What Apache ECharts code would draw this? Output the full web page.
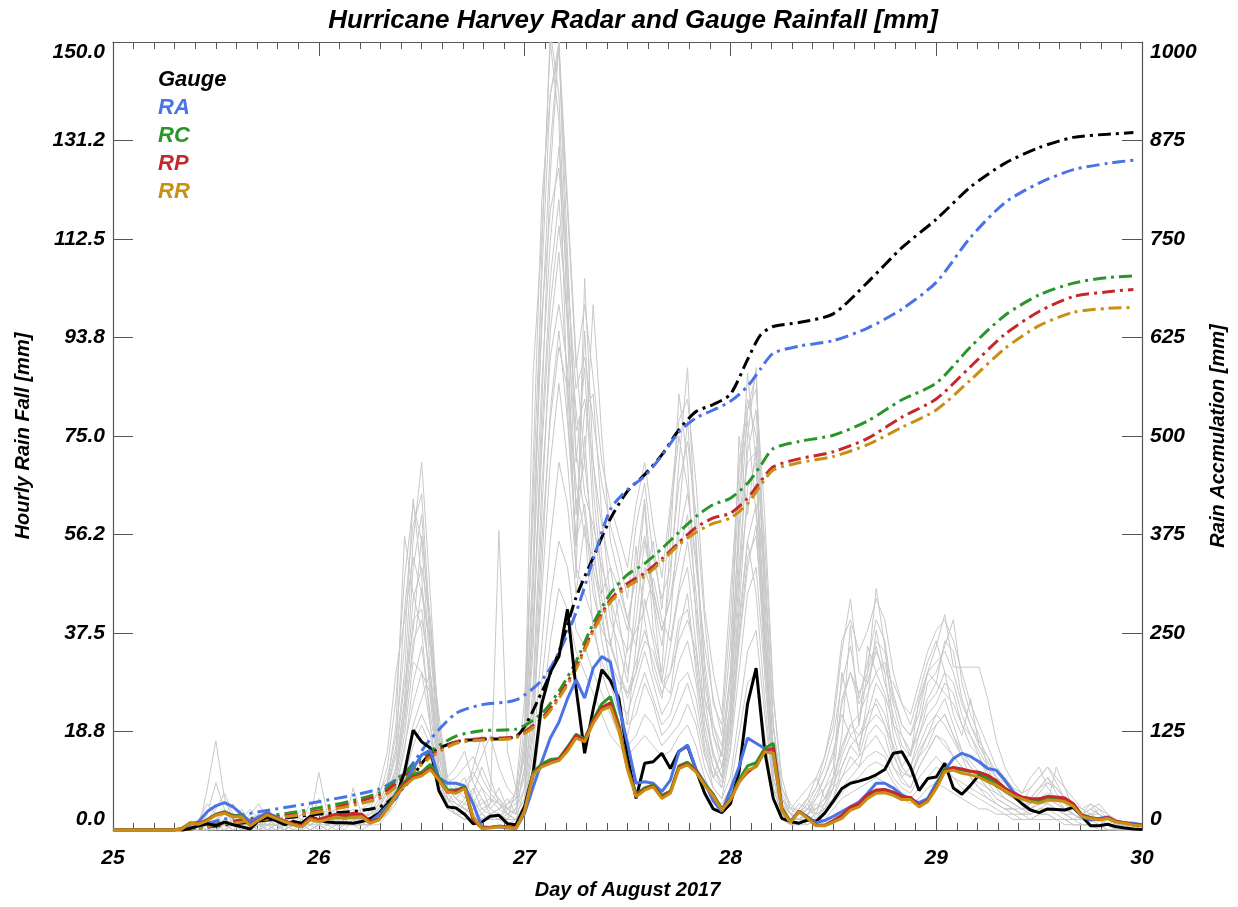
<!DOCTYPE html>
<html>
<head>
<meta charset="utf-8">
<script src="https://cdn.jsdelivr.net/npm/echarts@6/dist/echarts.min.js"></script>
<style>html,body{margin:0;padding:0;background:#fff}#chart{width:1238px;height:907px}</style>
</head>
<body>
<div id="chart"></div>
<script>
// ---------------- DATA ----------------
const dayStart = 25;                       // hour 0 = start of Aug 25
const xLabels = ['25', '26', '27', '28', '29', '30'];
const leftLabels = ['0.0', '18.8', '37.5', '56.2', '75.0', '93.8', '112.5', '131.2', '150.0'];
const rightLabels = ['0', '125', '250', '375', '500', '625', '750', '875', '1000'];
const legendNames = ['Gauge', 'RA', 'RC', 'RP', 'RR'];

// hourly rain (mm), index = hour since Aug 25 00:00 (0..120)
const gauge = [0,0,0,0,0,0,0,0,0,0.3, 0.8,1.2,0.8,1.5,1.0,0.6,0.2,1.8,2.4,1.8, 1.0,1.6,1.3,2.6,1.9,1.5,1.4,1.4,1.3,1.6,
  2.2,3.2,5.0,6.4,11.0,19.0,16.8,15.6,7.5,4.4, 4.2,3.0,1.2,1.5,2.6,2.8,1.2,1.0,4.5,11.0,
  24.0,30.0,33.0,42.0,27.0,14.6,23.0,30.5,28.5,25.0, 14.0,6.0,12.7,13.0,14.6,11.7,15.0,16.0,11.4,7.0,
  4.0,3.3,5.0,11.0,24.0,30.8,15.0,6.0,2.2,1.6, 1.3,1.9,1.6,3.2,5.5,7.9,8.9,9.3,9.8,10.5,
  11.5,14.6,14.9,12.0,7.5,9.8,10.1,12.7,8.0,6.8, 8.5,10.5,9.5,8.5,7.5,6.5,5.0,3.8,3.3,4.0,
  3.9,3.8,4.3,2.6,0.8,0.8,1.1,0.6,0.4,0.2, 0.1];
const ra = [0,0,0,0,0,0,0,0,0.3,1.1, 1.6,3.5,4.6,5.2,4.4,3.0,1.6,2.5,3.3,2.5, 1.6,1.0,0.8,2.0,1.9,2.1,2.4,2.4,2.4,2.5,
  1.6,2.9,4.6,6.0,8.9,11.7,14.3,15.2,10.0,8.9, 8.9,8.4,5.0,0.6,0.5,0.6,0.4,0.3,3.2,8.2,
  13.0,17.5,20.5,25.0,28.6,25.1,30.8,33.0,32.0,23.5, 16.5,8.9,9.2,8.9,7.3,9.5,14.9,16.2,11.5,9.0,
  5.5,3.5,7.6,12.0,17.5,16.5,15.5,14.5,3.8,1.6, 3.5,2.5,1.4,1.8,2.6,3.5,4.4,5.3,7.0,8.9,
  8.9,8.0,6.7,5.8,5.2,6.0,8.9,11.4,13.6,14.6, 14.0,13.0,11.7,11.4,9.5,7.3,6.0,5.4,6.0,5.8,
  5.8,5.7,4.8,2.5,1.9,2.2,2.5,1.6,1.4,1.3, 1.0];
const rc = [0,0,0,0,0,0,0,0,0.2,1.4, 1.2,2.0,3.0,3.5,2.8,2.7,0.9,2.0,3.0,2.3, 1.7,1.1,0.7,2.1,1.7,2.1,2.6,2.4,2.6,2.6,
  1.4,2.0,4.2,7.0,9.2,10.6,11.0,12.5,10.0,7.6, 7.6,8.2,2.0,0.4,0.5,0.7,0.6,0.4,3.8,11.0,
  12.6,13.4,13.6,15.8,18.2,17.3,21.0,24.0,25.4,20.0, 12.0,6.8,8.0,8.6,6.6,7.4,12.2,12.9,11.4,8.8,
  6.8,4.0,6.0,9.5,12.2,12.8,15.5,16.5,4.2,1.5, 3.6,2.4,0.9,0.9,1.7,2.4,4.1,4.7,6.4,7.4,
  7.6,7.0,6.2,6.0,4.6,5.6,8.3,11.7,11.8,11.4, 11.2,10.8,9.8,8.8,7.8,6.8,6.2,5.8,5.5,6.1,
  6.0,5.8,4.8,2.8,2.4,2.0,2.3,1.6,1.4,1.0, 0.9];
const rp = [0,0,0,0,0,0,0,0,0.2,1.3, 1.2,1.9,2.9,3.3,2.6,2.6,0.9,2.0,3.0,2.3, 1.7,1.2,0.8,2.3,2.0,2.5,3.0,2.8,3.2,3.0,
  1.6,2.1,4.0,6.7,8.8,10.1,10.6,11.8,9.6,7.2, 7.5,8.0,2.0,0.4,0.5,0.7,0.6,0.4,3.6,10.7,
  12.2,12.9,13.5,15.5,18.0,17.0,20.8,23.3,24.2,19.6, 11.8,6.5,7.8,8.4,6.3,7.2,12.0,12.6,11.2,8.6,
  6.6,3.9,5.8,9.2,11.0,12.2,15.0,15.6,4.0,1.5, 3.6,2.3,0.9,0.9,1.8,2.8,4.4,5.0,6.8,7.6,
  7.7,7.2,6.4,6.2,4.7,5.6,8.1,11.3,11.9,11.6, 11.2,11.0,10.4,9.4,8.0,7.0,6.3,6.0,5.9,6.4,
  6.3,6.1,5.0,2.8,2.3,2.0,2.4,1.6,1.4,1.0, 0.9];
const rr = [0,0,0,0,0,0,0,0,0.2,1.3, 1.1,1.8,2.8,3.2,2.5,2.5,0.8,1.9,2.9,2.2, 1.6,1.0,0.6,2.0,1.6,2.0,2.5,2.2,2.4,2.5,
  1.3,1.9,4.0,6.5,8.4,9.8,10.3,11.5,9.5,7.3, 7.0,7.9,2.5,0.3,0.4,0.6,0.5,0.3,3.5,10.5,
  12.0,12.7,13.2,15.0,17.5,16.8,20.3,22.8,23.5,19.0, 11.5,6.3,7.6,8.2,6.0,7.0,11.7,12.4,11.0,8.5,
  6.5,3.8,5.7,9.0,11.4,12.0,14.9,14.6,3.8,1.4, 3.5,2.2,0.8,0.8,1.5,2.2,3.8,4.4,6.0,7.0,
  7.1,6.6,5.8,5.8,4.4,5.4,7.9,11.1,11.4,10.8, 10.5,10.1,9.2,8.5,7.5,6.5,5.9,5.4,5.1,5.7,
  5.6,5.4,4.5,2.6,2.2,1.9,2.2,1.5,1.3,0.9, 0.8];

// accumulated rain (mm) sampled at these hours
const cumHours = [8,15,23,31,34,37,40,43,47,50,52,54,56,58,60,62,64,66,68,70,72,74,75.5,77,80,84,88,92,96,100,104,108,112,116,119];
const cumGauge = [0,9,19,29,55,97,112,115,119,175,226,295,346,395,430,451,476,508,531,540,553,597,628,639,644,655,695,739,775,816,846,866,879,883,885];
const cumRA = [0,19,34,52,72,115,148,159,165,190,225,276,343,407,432,449,475,505,523,533,544,563,585,605,614,621,637,661,695,752,796,821,838,846,850];
const cumRC = [0,13,26,47,73,100,119,126,128,148,176,214,262,300,324,338,357,378,398,413,421,440,462,484,493,501,519,546,567,613,653,679,694,701,703];
const cumRP = [0,12,22,44,68,95,112,116,119,142,170,207,255,292,313,326,344,365,384,396,402,421,442,461,471,480,497,524,547,588,629,658,677,683,686];
const cumRR = [0,10,21,40,64,92,110,114,117,139,167,204,252,289,309,322,341,362,378,389,396,414,437,457,466,474,489,511,533,571,611,640,657,662,663];

// individual gauge records (grey), hourly, index = hour
const grey1 = [0,0,0,0,0,0,0,0,0,0, 2,5,3,1,2,4,1,0,3,2, 1,2,4,3,2,1,3,2,1,2, 3,6,12,25,48,62,55,30,12,6, 4,3,5,8,4,6,3,2,8,45,
  110,152,140,96,48,105,70,52,40,35, 28,45,62,38,30,55,83,70,40,22, 15,10,25,60,87,70,30,8,3,2, 4,6,3,8,12,30,22,15,25,38,
  30,18,12,15,20,28,30,35,40,28, 22,18,12,8,6,5,4,6,8,10, 7,5,3,2,3,2,1,2,1,0, 0];
const grey2 = [0,0,0,0,0,0,0,0,0,0, 0,8,17,6,2,1,3,5,2,1, 0,1,2,5,3,2,4,1,2,3, 2,4,8,15,30,55,70,45,18,8, 6,4,3,2,3,4,6,3,12,70,
  120,140,150,102,60,80,83,60,44,30, 20,35,50,44,28,40,60,78,55,30, 18,12,20,45,75,88,40,10,4,2, 1,3,5,4,8,18,39,20,30,46,
  35,20,15,12,18,24,26,30,22,18, 25,16,14,10,8,7,5,4,6,5, 12,8,4,3,5,3,2,1,1,0, 0];
const grey3 = [0,0,0,0,0,0,0,0,0,0, 1,2,4,7,3,2,1,0,2,3, 2,1,0,1,2,1,2,3,4,2, 1,3,6,10,22,40,42,28,10,5, 8,10,6,3,5,57,15,8,10,25,
  60,95,110,85,54,75,50,42,30,25, 35,54,40,30,25,35,45,50,35,20, 12,8,18,38,55,62,35,12,5,3, 2,1,2,5,10,15,20,18,22,28,
  25,15,10,12,16,20,22,25,20,15, 12,10,8,6,5,4,3,4,5,6, 5,4,3,2,2,1,2,1,1,0, 0];
const grey4 = [0,0,0,0,0,0,0,0,0,0, 0,1,2,3,2,1,0,1,2,1, 0,2,3,2,1,0,1,2,3,4, 5,7,10,18,35,63,48,25,10,5, 3,2,4,6,3,2,4,6,15,40,
  75,105,120,96,72,60,45,38,35,30, 25,30,44,36,28,26,38,45,30,18, 10,15,30,50,72,80,45,15,4,2, 3,5,2,4,6,12,16,14,20,25,
  22,16,12,10,14,18,20,22,18,14, 10,9,8,7,6,5,4,3,4,5, 4,3,2,3,2,2,1,1,0,0, 0];
const grey5 = [0,0,0,0,0,0,0,0,0,0, 0,0,1,2,1,0,0,1,1,2, 1,1,2,1,0,1,2,1,1,2, 2,3,5,8,15,28,35,22,12,6, 4,3,2,3,2,3,2,4,8,22,
  45,70,85,70,50,45,40,30,25,20, 18,25,30,25,20,22,28,30,25,15, 8,6,15,30,45,50,30,10,3,2, 2,3,4,6,8,10,12,14,16,18,
  15,12,10,8,12,15,18,16,14,12, 10,8,6,5,4,4,3,3,4,4, 3,2,2,1,1,1,1,0,0,0, 0];
const grey6 = [0,0,0,0,0,0,0,0,0,0, 0,2,1,0,1,3,2,1,0,1, 3,2,1,2,11,3,2,1,2,1, 2,5,9,20,56,45,38,20,9,4, 3,5,8,4,3,2,5,7,20,87,
  113,150,135,80,54,95,65,48,35,44, 38,50,63,44,35,48,70,88,54,25, 20,14,28,75,60,73,35,12,6,3, 2,4,6,10,15,22,18,20,35,30,
  26,20,18,14,25,30,35,41,31,31, 31,31,25,17,12,9,7,10,12,8, 6,4,3,2,3,4,2,1,1,0, 0];
const grey7 = [0,0,0,0,0,0,0,0,0,0, 0,1,0,1,2,1,0,2,1,0, 1,3,2,1,2,3,1,0,2,1, 1,2,4,6,12,20,25,30,15,8, 6,5,4,2,3,4,3,2,5,15,
  35,55,70,62,45,58,38,32,28,22, 20,22,28,24,18,20,24,28,22,14, 10,12,22,40,55,45,25,8,5,3, 5,4,3,4,6,8,10,12,14,15,
  14,10,8,7,10,12,14,12,10,9, 8,7,6,5,4,3,3,2,3,3, 2,2,1,1,1,1,0,0,0,0, 0];
const grey8 = [0,0,0,0,0,0,0,0,0,0, 1,0,2,1,0,2,1,3,2,1, 2,0,1,3,2,4,2,1,8,3, 2,4,8,14,28,38,56,40,20,10, 8,6,7,12,8,6,4,5,10,35,
  80,125,150,110,70,88,60,45,50,40, 30,40,55,45,38,44,52,60,45,25, 14,10,22,55,80,87,50,20,6,4, 6,8,10,6,10,25,30,24,28,35,
  28,22,16,14,20,25,28,26,24,20, 18,14,10,8,6,5,4,5,7,9, 8,6,4,3,4,5,3,2,1,1, 0];
const grey9 = [0,0,0,0,0,0,0,0,0,0, 0,1,1,2,1,1,0,0,1,2, 2,1,1,2,3,2,1,1,2,2, 3,4,7,12,25,50,60,35,14,7, 5,4,3,4,5,8,4,3,6,28,
  65,90,100,88,62,70,55,40,32,28, 26,32,38,32,26,30,40,42,32,18, 12,9,20,42,65,70,38,12,4,2, 3,4,4,5,8,14,18,16,22,24,
  20,14,11,10,15,18,22,20,17,14, 12,10,8,6,5,4,4,4,5,6, 5,4,3,2,2,2,1,1,0,0, 0];
const grey10 = [0,0,0,0,0,0,0,0,0,0, 0,0,1,1,2,1,1,0,0,1, 1,2,1,0,1,2,2,1,1,1, 1,2,5,9,18,32,30,20,8,5, 3,2,2,3,2,2,3,2,4,18,
  50,80,95,78,55,62,48,36,28,24, 22,28,34,28,22,25,32,36,28,16, 10,8,16,35,50,58,32,10,4,2, 2,2,3,4,6,10,14,12,18,20,
  18,12,9,8,12,15,18,17,14,12, 10,8,7,5,4,4,3,3,4,4, 4,3,2,2,1,1,1,0,0,0, 0];
const grey11 = [0,0,0,0,0,0,0,0,0,0, 0,3,9,4,1,0,2,1,4,2, 0,1,3,2,6,2,1,3,2,1, 4,8,15,30,40,52,45,35,22,10, 12,15,9,6,4,3,2,8,25,60,
  95,130,150,120,90,70,100,75,55,48, 40,35,48,55,42,60,75,65,50,35, 25,18,35,65,78,60,42,15,8,5, 3,6,8,12,18,28,35,25,32,40,
  36,25,20,18,22,30,28,36,34,25, 20,16,13,10,9,7,5,8,10,12, 9,6,4,3,4,3,2,1,1,0, 0];
const grey12 = [0,0,0,0,0,0,0,0,0,0, 0,0,2,3,5,2,1,2,0,1, 2,1,0,2,1,3,4,2,1,0, 1,2,4,8,16,24,30,26,14,6, 4,6,12,18,10,5,3,4,12,38,
  72,100,115,98,80,64,58,50,44,38, 34,38,42,48,40,36,46,55,42,28, 18,14,24,48,62,66,48,20,6,3, 2,3,6,8,10,16,20,22,26,30,
  32,24,18,15,18,22,24,28,26,20, 16,14,11,9,7,6,5,5,6,7, 6,5,4,3,3,2,2,1,1,0, 0];
const grey13 = [0,0,0,0,0,0,0,0,0,0, 0,0,0,1,1,2,1,1,0,0, 1,1,1,0,1,1,2,2,1,1, 1,1,3,5,10,16,20,16,10,5, 3,3,2,2,3,2,2,2,3,10,
  28,44,55,50,38,35,30,26,22,18, 16,18,22,20,16,18,20,24,20,12, 8,6,10,22,34,38,22,8,3,1, 1,2,2,3,5,7,9,10,12,13,
  12,9,7,6,8,10,12,11,10,8, 7,6,5,4,3,3,2,2,3,3, 2,2,1,1,1,1,0,0,0,0, 0];
const grey14 = [0,0,0,0,0,0,0,0,0,0, 0,1,0,2,1,0,1,2,1,1, 0,1,2,1,2,1,0,1,2,3, 3,5,9,16,42,58,64,38,16,8, 6,8,10,14,18,12,8,6,14,52,
  98,118,126,104,84,90,78,66,58,52, 44,58,66,52,44,50,66,74,60,40, 24,20,40,70,82,75,55,25,10,4, 4,6,10,14,20,34,44,30,28,34,
  30,28,24,20,26,32,36,30,28,22, 18,15,12,10,8,7,6,6,8,10, 8,6,5,4,3,3,2,1,1,0, 0];
const grey15 = [0,0,0,0,0,0,0,0,0,0, 0,1,1,1,0,1,1,0,1,1, 1,0,1,1,2,1,1,2,1,1, 2,2,5,10,20,36,40,30,12,6, 5,4,4,5,6,5,4,3,6,20,
  55,78,92,84,66,56,52,44,36,30, 26,30,36,34,28,30,36,40,34,22, 14,10,18,36,52,56,36,14,5,2, 2,3,4,6,9,12,16,18,20,22,
  20,16,12,10,14,16,20,22,18,15, 13,11,9,7,6,5,4,4,5,5, 4,3,3,2,2,1,1,1,0,0, 0];
const grey16 = [0,0,0,0,0,0,0,0,0,0, 0,0,1,0,1,2,4,2,1,0, 0,2,1,3,2,1,2,4,2,1, 1,3,6,12,24,44,50,40,20,9, 10,12,14,10,7,5,3,4,18,65,
  105,140,148,118,88,100,86,70,62,56, 50,62,70,58,48,62,78,82,66,42, 30,22,45,68,80,84,60,26,8,4, 3,5,8,14,22,36,40,34,38,44,
  40,30,24,22,28,34,38,40,36,30, 24,20,16,12,10,8,7,8,10,12, 10,8,6,4,5,4,3,2,1,0, 0];
const grey17 = [0,0,0,0,0,0,0,0,0,0, 0,0,0,0,1,1,0,1,1,1, 0,1,1,1,1,0,1,1,1,2, 1,2,3,6,12,18,22,18,8,4, 3,2,2,2,2,2,1,2,3,8,
  22,36,46,42,34,30,26,22,18,16, 14,16,18,16,14,15,18,20,16,10, 6,5,8,18,28,30,18,6,2,1, 1,1,2,2,4,6,7,8,9,10,
  9,7,6,5,6,8,9,8,7,6, 5,4,4,3,3,2,2,2,2,2, 2,1,1,1,1,0,0,0,0,0, 0];
const grey18 = [0,0,0,0,0,0,0,0,0,0, 0,1,2,1,0,1,2,3,2,1, 1,2,1,0,1,3,2,1,2,2, 2,3,6,11,22,34,46,36,18,9, 7,9,11,8,6,4,5,6,16,48,
  85,112,130,108,76,82,70,58,50,46, 40,48,56,46,38,44,56,64,52,32, 20,16,30,58,70,72,50,20,7,3, 3,4,7,10,14,24,30,26,30,36,
  34,26,20,18,24,30,32,34,30,24, 20,17,14,11,9,7,6,6,8,9, 8,6,5,3,4,3,2,1,1,0, 0];
const greyGauges = [grey1, grey2, grey3, grey4, grey5, grey6, grey7, grey8, grey9,
  grey10, grey11, grey12, grey13, grey14, grey15, grey16, grey17, grey18];

// ---------------- STYLE ----------------
const FONT = "'Liberation Sans', Arial, Helvetica, sans-serif";
const colors = {Gauge: '#000000', RA: '#4a73e8', RC: '#2a962a', RP: '#c4282a', RR: '#c98f14'};
const axisColor = '#555555';
const dashDot = [13, 5, 3, 5];

const toXY = arr => arr.map((v, h) => [dayStart + h / 24, v]);
const cumXY = arr => arr.map((v, i) => [dayStart + cumHours[i] / 24, v]);

const series = [];
greyGauges.forEach((g, i) => series.push({
  name: 'gauge ' + (i + 1), type: 'line', data: toXY(g), xAxisIndex: 0, yAxisIndex: 0,
  symbol: 'none', silent: true, lineStyle: {color: '#c8c8c8', width: 1}, z: 1
}));
const cumData = {Gauge: cumGauge, RA: cumRA, RC: cumRC, RP: cumRP, RR: cumRR};
const hourly = {Gauge: gauge, RA: ra, RC: rc, RP: rp, RR: rr};
legendNames.forEach(n => series.push({
  name: n, type: 'line', data: cumXY(cumData[n]), xAxisIndex: 0, yAxisIndex: 1,
  symbol: 'none', smooth: 0.25, lineStyle: {color: colors[n], width: 3, type: dashDot}, itemStyle: {color: colors[n]}, z: 3
}));
legendNames.forEach(n => series.push({
  name: n, type: 'line', data: toXY(hourly[n]), xAxisIndex: 0, yAxisIndex: 0,
  symbol: 'none', lineStyle: {color: colors[n], width: 3}, itemStyle: {color: colors[n]}, z: 4
}));

const labelStyle = {color: '#000', fontFamily: FONT, fontWeight: 'bold', fontStyle: 'italic', fontSize: 21};
const nameStyle = {color: '#000', fontFamily: FONT, fontWeight: 'bold', fontStyle: 'italic', fontSize: 20};

const chart = echarts.init(document.getElementById('chart'), null, {renderer: 'canvas'});
chart.setOption({
  animation: false,
  backgroundColor: '#ffffff',
  title: {
    text: 'Hurricane Harvey Radar and Gauge Rainfall [mm]',
    left: 628, top: 3, textAlign: 'center',
    textStyle: {color: '#000', fontFamily: FONT, fontWeight: 'bold', fontStyle: 'italic', fontSize: 26}
  },
  legend: {
    orient: 'vertical', left: 148, top: 64, icon: 'none', itemWidth: 0, itemHeight: 22, itemGap: 6,
    selectedMode: true,
    textStyle: {fontFamily: FONT, fontWeight: 'bold', fontStyle: 'italic', fontSize: 22},
    data: legendNames.map(n => ({name: n, textStyle: {color: colors[n]}}))
  },
  grid: {left: 113, right: 96, top: 42, bottom: 77, containLabel: false},
  xAxis: [
    {
      type: 'value', position: 'bottom', min: 25, max: 30, interval: 1,
      name: 'Day of August 2017', nameLocation: 'middle', nameGap: 50, nameTextStyle: nameStyle,
      axisLine: {show: true, onZero: false, lineStyle: {color: axisColor, width: 1.2}},
      axisTick: {show: true, inside: true, length: 14, lineStyle: {color: axisColor}},
      minorTick: {show: true, splitNumber: 10, length: 7, lineStyle: {color: axisColor}},
      splitLine: {show: false}, minorSplitLine: {show: false},
      axisLabel: Object.assign({margin: 18, formatter: v => xLabels[Math.round(v - dayStart)]}, labelStyle)
    },
    {
      type: 'value', position: 'top', min: 25, max: 30, interval: 1,
      axisLine: {show: true, onZero: false, lineStyle: {color: axisColor, width: 1.2}},
      axisTick: {show: true, inside: true, length: 14, lineStyle: {color: axisColor}},
      minorTick: {show: true, splitNumber: 10, length: 7, lineStyle: {color: axisColor}},
      splitLine: {show: false}, axisLabel: {show: false}
    }
  ],
  yAxis: [
    {
      type: 'value', position: 'left', min: 0, max: 150, interval: 18.75,
      name: 'Hourly Rain Fall [mm]', nameLocation: 'middle', nameGap: 80, nameRotate: 90, nameTextStyle: nameStyle,
      axisLine: {show: true, onZero: false, lineStyle: {color: axisColor, width: 1.2}},
      axisTick: {show: true, inside: true, length: 20, lineStyle: {color: axisColor}},
      splitLine: {show: false},
      axisLabel: Object.assign({margin: 8, verticalAlignMaxLabel: 'top', verticalAlignMinLabel: 'bottom',
        formatter: v => leftLabels[Math.round(v / 18.75)]}, labelStyle)
    },
    {
      type: 'value', position: 'right', min: 0, max: 1000, interval: 125,
      name: 'Rain Accmulation [mm]', nameLocation: 'middle', nameGap: 66, nameRotate: 90, nameTextStyle: nameStyle,
      axisLine: {show: true, onZero: false, lineStyle: {color: axisColor, width: 1.2}},
      axisTick: {show: true, inside: true, length: 20, lineStyle: {color: axisColor}},
      splitLine: {show: false},
      axisLabel: Object.assign({margin: 8, verticalAlignMaxLabel: 'top', verticalAlignMinLabel: 'bottom',
        formatter: v => rightLabels[Math.round(v / 125)]}, labelStyle)
    }
  ],
  series: series
});
</script>
</body>
</html>
